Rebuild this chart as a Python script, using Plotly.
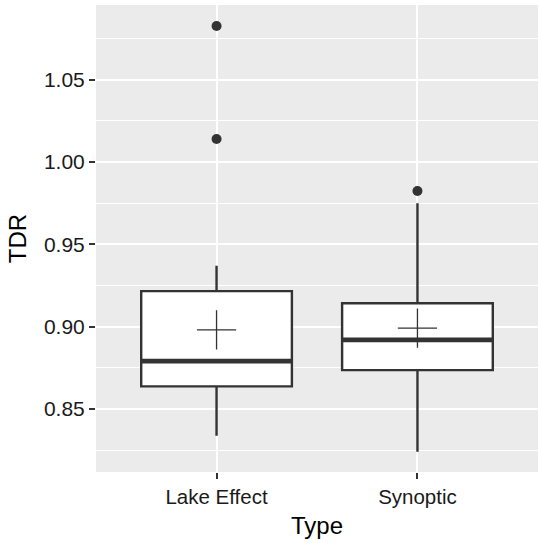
import plotly.graph_objects as go

# ---- data ----
categories = ["Lake Effect", "Synoptic"]
q1 = [0.8637, 0.8736]
median = [0.8790, 0.8920]
q3 = [0.9216, 0.9142]
lower_whisker = [0.8337, 0.8240]
upper_whisker = [0.9370, 0.9750]
means = [0.8980, 0.8991]
outliers = [[1.0826, 1.0140], [0.9824]]

y_ticks = [0.85, 0.90, 0.95, 1.00, 1.05]
y_tick_labels = ["0.85", "0.90", "0.95", "1.00", "1.05"]

DARK = "#333333"
BOX_W = 0.75
xpos = list(range(len(categories)))

fig = go.Figure()

for i, cat in enumerate(categories):
    fig.add_trace(go.Box(
        x=[xpos[i]], q1=[q1[i]], median=[median[i]], q3=[q3[i]],
        lowerfence=[lower_whisker[i]], upperfence=[upper_whisker[i]],
        width=BOX_W, whiskerwidth=0, fillcolor="white",
        line=dict(color=DARK, width=2.4), boxpoints=False,
        showlegend=False, hoverinfo="skip", name=cat,
    ))
    # thick median line
    fig.add_trace(go.Scatter(
        x=[xpos[i] - BOX_W / 2, xpos[i] + BOX_W / 2], y=[median[i], median[i]],
        mode="lines", line=dict(color=DARK, width=4.7),
        showlegend=False, hoverinfo="skip",
    ))
    # outliers
    fig.add_trace(go.Scatter(
        x=[xpos[i]] * len(outliers[i]), y=outliers[i], mode="markers",
        marker=dict(color=DARK, size=10),
        showlegend=False, hoverinfo="skip",
    ))
    # mean cross
    fig.add_trace(go.Scatter(
        x=[xpos[i]], y=[means[i]], mode="markers",
        marker=dict(symbol="cross-thin-open", size=28, color=DARK,
                    line=dict(color=DARK, width=1.3)),
        showlegend=False, hoverinfo="skip",
    ))

FONT = "Liberation Sans, Arial, sans-serif"

fig.update_layout(
    width=539, height=543,
    margin=dict(l=96, r=1, t=5, b=71),
    paper_bgcolor="white", plot_bgcolor="#EBEBEB",
    font=dict(family=FONT, size=19, color="black"),
    xaxis=dict(
        range=[-0.6, 1.6], tickmode="array", tickvals=xpos, ticktext=categories,
        showgrid=True, gridcolor="white", gridwidth=2,
        ticks="outside", ticklen=6, tickwidth=2, tickcolor=DARK,
        tickfont=dict(size=20.5, color="#1a1a1a"),
        zeroline=False, showline=False,
        title=dict(text="Type", font=dict(size=24, color="black"), standoff=10),
    ),
    yaxis=dict(
        range=[0.8117, 1.0954], tickmode="array", tickvals=y_ticks, ticktext=y_tick_labels,
        showgrid=True, gridcolor="white", gridwidth=2,
        ticks="outside", ticklen=6, tickwidth=2, tickcolor=DARK,
        tickfont=dict(size=21, color="#1a1a1a"),
        zeroline=False, showline=False,
        minor=dict(tick0=0.825, dtick=0.05, showgrid=True, gridcolor="white", gridwidth=1),
        title=dict(text="TDR", font=dict(size=24, color="black"), standoff=10),
    ),
)

fig.write_html("out.html", config={"displayModeBar": False},
               post_script="document.body.style.margin='0';")
